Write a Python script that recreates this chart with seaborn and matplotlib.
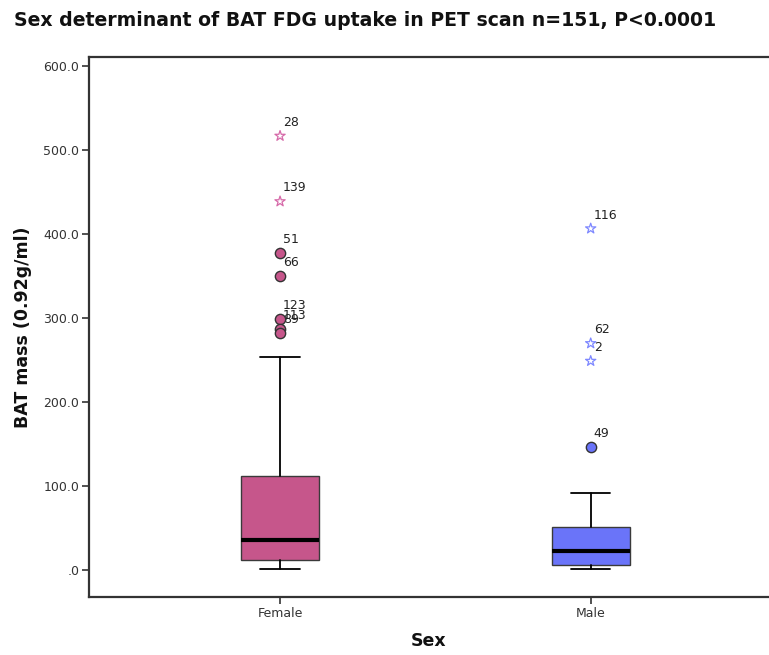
import matplotlib
matplotlib.use("Agg")
import matplotlib.pyplot as plt
import seaborn as sns
import pandas as pd

# Summary statistics of BAT mass per sex
groups = ["Female", "Male"]
whisker_low = [0.8, 1.5]
q1 = [12.3, 6.0]
medians = [35.7, 22.6]
q3 = [112.0, 51.6]
whisker_high = [253.6, 92.0]

# Outlying cases: (group, case id, value, kind) - "o" mild, "*" extreme
outlier_group = ["Female", "Female", "Female", "Female", "Female", "Female", "Female",
                 "Male", "Male", "Male", "Male"]
outlier_case = ["28", "139", "51", "66", "123", "113", "89", "116", "62", "2", "49"]
outlier_value = [517.0, 439.0, 377.7, 350.0, 299.6, 287.7, 282.5,
                 406.7, 270.0, 249.0, 146.8]
outlier_kind = ["*", "*", "o", "o", "o", "o", "o", "*", "*", "*", "o"]

yticks = [0, 100, 200, 300, 400, 500, 600]
ytick_labels = [".0", "100.0", "200.0", "300.0", "400.0", "500.0", "600.0"]

box_colors = {"Female": "#C6568B", "Male": "#6A74F9"}
star_colors = {"Female": "#D66AA9", "Male": "#7E88FF"}

sns.set_theme(style="white")
plt.rcParams["font.family"] = ["DejaVu Sans"]

fig = plt.figure(figsize=(7.69, 6.55), dpi=100)
ax = fig.add_axes([89 / 769, 58 / 655, 680 / 769, 540 / 655])

positions = list(range(len(groups)))
stats = []
for i, g in enumerate(groups):
    stats.append(dict(label=g, whislo=whisker_low[i], q1=q1[i], med=medians[i],
                      q3=q3[i], whishi=whisker_high[i], fliers=[]))

bp = ax.bxp(stats, positions=positions, widths=0.252, patch_artist=True,
            showfliers=False, capwidths=0.126,
            medianprops=dict(color="black", linewidth=3),
            whiskerprops=dict(color="black", linewidth=1.3),
            capprops=dict(color="black", linewidth=1.3),
            boxprops=dict(edgecolor="#3a3a3a", linewidth=1.0))
for patch, g in zip(bp["boxes"], groups):
    patch.set_facecolor(box_colors[g])

df = pd.DataFrame({"group": outlier_group, "case": outlier_case,
                   "value": outlier_value, "kind": outlier_kind})
df["pos"] = df["group"].map({g: i for i, g in enumerate(groups)})

for g in groups:
    sub = df[(df["group"] == g) & (df["kind"] == "o")]
    sns.scatterplot(data=sub, x="pos", y="value", ax=ax, marker="o", s=55,
                    color=box_colors[g], edgecolor="#333333", linewidth=1.0,
                    zorder=4, legend=False)
    sub = df[(df["group"] == g) & (df["kind"] == "*")]
    sns.scatterplot(data=sub, x="pos", y="value", ax=ax, marker="*", s=60,
                    color="none", edgecolor=star_colors[g], linewidth=0.9,
                    zorder=4, legend=False)

for _, r in df.iterrows():
    ax.annotate(r["case"], (r["pos"], r["value"]), xytext=(3, 7),
                textcoords="offset pixels", fontsize=9, color="#222222",
                ha="left", va="bottom")

ax.set_xlim(-0.615, 1.574)
ax.set_ylim(-32, 611)
ax.set_xticks(positions)
ax.set_xticklabels(groups)
ax.set_yticks(yticks)
ax.set_yticklabels(ytick_labels)
ax.tick_params(axis="both", which="both", direction="out", length=5, width=1.2,
               color="#333333", labelsize=9, labelcolor="#333333",
               left=True, bottom=True, pad=2)

for side in ["left", "bottom", "top"]:
    ax.spines[side].set_color("#333333")
    ax.spines[side].set_linewidth(1.6)
ax.spines["right"].set_visible(False)

ax.set_xlabel("Sex", fontsize=12.5, fontweight="bold", color="#111111", labelpad=9)
ax.set_ylabel("BAT mass (0.92g/ml)", fontsize=12.5, fontweight="bold",
              color="#111111", labelpad=8)
fig.text(0.018, 0.968, "Sex determinant of BAT FDG uptake in PET scan n=151, P<0.0001",
         fontsize=13.6, fontweight="bold", color="#111111", ha="left", va="center")

fig.savefig("out.png", dpi=100)
